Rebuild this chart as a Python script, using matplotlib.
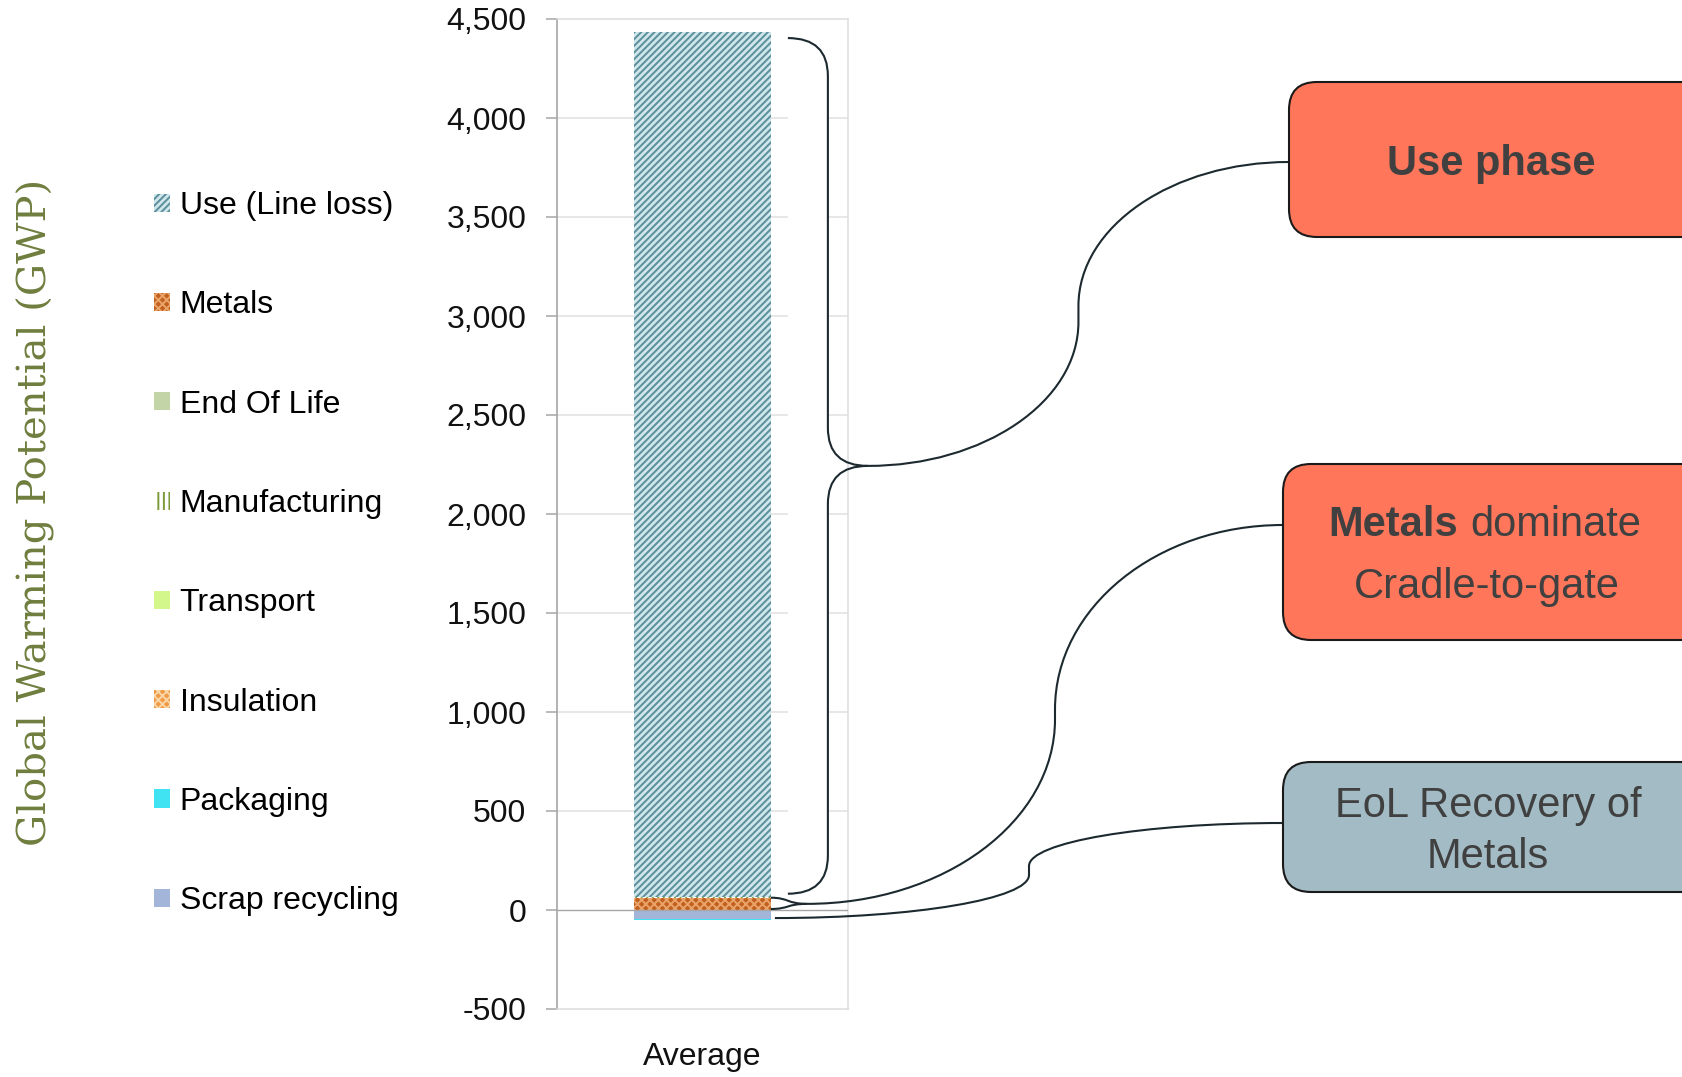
import numpy as np
import matplotlib
matplotlib.use("Agg")
from matplotlib import pyplot as plt
from matplotlib.path import Path
from matplotlib.patches import PathPatch, FancyBboxPatch, Rectangle

plt.rcParams['font.family'] = ['Liberation Sans', 'DejaVu Sans']
plt.rcParams['hatch.linewidth'] = 1.4

# stacked contributions (kg CO2-eq)
category = ["Average"]
pos_series = ["Metals", "End Of Life", "Manufacturing", "Transport", "Insulation", "Use (Line loss)"]
pos_values = [62, 1, 2, 1, 2, 4366]
neg_series = ["Scrap recycling", "Packaging"]
neg_values = [-46, -5]
legend_order = ["Use (Line loss)", "Metals", "End Of Life", "Manufacturing",
                "Transport", "Insulation", "Packaging", "Scrap recycling"]
yticks = np.arange(-500, 4501, 500)

styles = {
    "Use (Line loss)": dict(facecolor="#cfe6eb", edgecolor="#5b8f9b", hatch="/////"),
    "Metals": dict(facecolor="#c1601f", edgecolor="#eaa46a", hatch="xxxx"),
    "End Of Life": dict(facecolor="#c3d5a6", edgecolor="#c3d5a6", hatch=None),
    "Manufacturing": dict(facecolor="#ffffff", edgecolor="#7c9a3a", hatch="|||"),
    "Transport": dict(facecolor="#d3f78a", edgecolor="#d3f78a", hatch=None),
    "Insulation": dict(facecolor="#f09a45", edgecolor="#fbd6a6", hatch="xxxx"),
    "Packaging": dict(facecolor="#3fe3f2", edgecolor="#3fe3f2", hatch=None),
    "Scrap recycling": dict(facecolor="#a3b6da", edgecolor="#a3b6da", hatch=None),
}

W, H = 1683, 1077
fig = plt.figure(figsize=(W / 100, H / 100), dpi=100)
ax = fig.add_axes([557 / W, (H - 1009) / H, (848 - 557) / W, (1009 - 19) / H])

x = np.arange(len(category))
bw = 0.47
handles = {}
bottom = 0
for name, v in zip(pos_series, pos_values):
    st = styles[name]
    b = ax.bar(x, v, bw, bottom=bottom, linewidth=0, zorder=3, **st)
    handles[name] = b
    bottom += v
use_top = bottom
metals_top = pos_values[0]
bottom = 0
for name, v in zip(neg_series, neg_values):
    st = styles[name]
    b = ax.bar(x, v, bw, bottom=bottom, linewidth=0, zorder=3, **st)
    handles[name] = b
    bottom += v
neg_bottom = bottom

ax.set_xlim(-0.5, 0.5)
ax.set_ylim(-500, 4500)
ax.set_yticks(yticks)
ax.set_yticklabels([f"{t:,}" for t in yticks], fontsize=23, color="#111111")
ax.set_xticks(x)
ax.set_xticklabels(category, fontsize=23, color="#111111")
ax.tick_params(axis="x", length=0, pad=24)
ax.tick_params(axis="y", length=8, width=1.1, color="#a6a6a6", pad=14)
for t in yticks:
    if t == 0:
        ax.axhline(0, color="#a6a6a6", lw=1.0, zorder=4)
    elif -500 < t < 4500:
        ax.axhline(t, color="#e0e0e0", lw=1.1, zorder=1)
ax.spines["left"].set_color("#a6a6a6")
ax.spines["left"].set_linewidth(1.2)
for s in ["top", "right", "bottom"]:
    ax.spines[s].set_color("#dcdcdc")
    ax.spines[s].set_linewidth(1.1)

leg = ax.legend([handles[n] for n in legend_order], legend_order,
                loc="upper left", bbox_to_anchor=(154 / W, 1 - 191 / H),
                bbox_transform=fig.transFigure, frameon=False, fontsize=23,
                handlelength=0.5, handleheight=0.5, handletextpad=0.3,
                labelspacing=2.17, borderpad=0, borderaxespad=0)

fig.text(36 / W, 1 - 512 / H, "Global Warming Potential (GWP)", rotation=90,
         ha="center", va="center", fontsize=29, color="#6f7e3e",
         family="DejaVu Serif")

# overlay in pixel coordinates for brace, connectors and call-out boxes
ov = fig.add_axes([0, 0, 1, 1], zorder=5)
ov.set_xlim(0, W)
ov.set_ylim(H, 0)
ov.axis("off")
ov.patch.set_alpha(0)


def to_px(xv, yv):
    dx, dy = ax.transData.transform((xv, yv))
    return dx, H - dy


K = 0.5523


def h_to_v(p0, p1):
    # quarter ellipse: horizontal tangent at p0, vertical tangent at p1
    (x0, y0), (x1, y1) = p0, p1
    return [(x0 + K * (x1 - x0), y0), (x1, y1 + K * (y0 - y1)), (x1, y1)]


def v_to_h(p0, p1):
    # quarter ellipse: vertical tangent at p0, horizontal tangent at p1
    (x0, y0), (x1, y1) = p0, p1
    return [(x0, y0 + K * (y1 - y0)), (x1 - K * (x1 - x0), y1), (x1, y1)]


def s_curve(p0, p1, xmid, straight=0):
    ymid = (p0[1] + p1[1]) / 2
    sgn = np.sign(p1[1] - p0[1])
    a = (xmid, ymid - sgn * straight / 2)
    b = (xmid, ymid + sgn * straight / 2)
    verts = [p0] + h_to_v(p0, a) + [b] + v_to_h(b, p1)
    codes = [Path.MOVETO] + [Path.CURVE4] * 3 + [Path.LINETO] + [Path.CURVE4] * 3
    return Path(verts, codes)


bar_r, _ = to_px(x[0] + bw / 2, 0)
_, y_top = to_px(0, use_top)
_, y_met = to_px(0, metals_top)
_, y_zero = to_px(0, 0)
_, y_neg = to_px(0, neg_bottom)

line_kw = dict(facecolor="none", edgecolor="#1c2a30", lw=1.5)

# curly brace around the use phase
xb0 = bar_r + 17
xv = xb0 + 40
xt = xv + 40
yb_top = y_top + 6
yb_bot = y_met - 4
ymid = (yb_top + yb_bot) / 2
r = 38
ov.add_patch(Rectangle((xb0, yb_top), xv - xb0 - 1, yb_bot - yb_top, facecolor="white",
                       edgecolor="none", zorder=0))
verts = [(xb0, yb_top), (xv, yb_top), (xv, yb_top + r), (xv, ymid - r), (xv, ymid), (xt, ymid),
         (xv, ymid), (xv, ymid + r), (xv, yb_bot - r), (xv, yb_bot), (xb0, yb_bot)]
codes = [Path.MOVETO, Path.CURVE3, Path.CURVE3, Path.LINETO, Path.CURVE3, Path.CURVE3,
         Path.CURVE3, Path.CURVE3, Path.LINETO, Path.CURVE3, Path.CURVE3]
ov.add_patch(PathPatch(Path(verts, codes), **line_kw))

# call-out boxes
box1 = (1289, 82, 155)
box2 = (1283, 464, 176)
box3 = (1283, 762, 130)
for (bx, by, bh), fc in zip([box1, box2, box3], ["#ff765a", "#ff765a", "#a2bbc4"]):
    ov.add_patch(FancyBboxPatch((bx, by), 500, bh, boxstyle="round,pad=0,rounding_size=28",
                                facecolor=fc, edgecolor="#1a1a1a", lw=1.5, zorder=2))

# connector: brace tip -> Use phase
y1 = 162
ov.add_patch(PathPatch(s_curve((xt, ymid), (box1[0], y1), (xt + box1[0]) / 2, straight=16),
                       **line_kw))

# connector: metals band -> Metals box (two strands merge into one)
ym2 = (y_met + y_zero) / 2
xj = bar_r + 36
for ys in (y_met, y_zero - 1):
    ov.add_patch(PathPatch(Path([(bar_r, ys), (bar_r + 18, ys), (bar_r + 16, ym2), (xj, ym2)],
                                [Path.MOVETO, Path.CURVE4, Path.CURVE4, Path.CURVE4]), **line_kw))
y2 = 525
ov.add_patch(PathPatch(s_curve((xj, ym2), (box2[0], y2), 1055, straight=10), **line_kw))

# connector: scrap recycling -> EoL recovery box
ys3 = (y_zero + y_neg) / 2 + 3
y3 = 823
ov.add_patch(PathPatch(s_curve((bar_r + 4, ys3), (box3[0], y3), 1029, straight=9), **line_kw))

txt = dict(color="#404040", fontsize=30, zorder=6)
ov.text(1491, 175, "Use phase", ha="center", va="baseline", fontweight="bold", **txt)
ov.text(1458, 536, "Metals", ha="right", va="baseline", fontweight="bold", **txt)
ov.text(1470, 536, "dominate", ha="left", va="baseline", **txt)
ov.text(1487, 598, "Cradle-to-gate", ha="center", va="baseline", **txt)
ov.text(1488, 817, "EoL Recovery of", ha="center", va="baseline", **txt)
ov.text(1488, 868, "Metals", ha="center", va="baseline", **txt)

fig.savefig("out.png", dpi=100)
